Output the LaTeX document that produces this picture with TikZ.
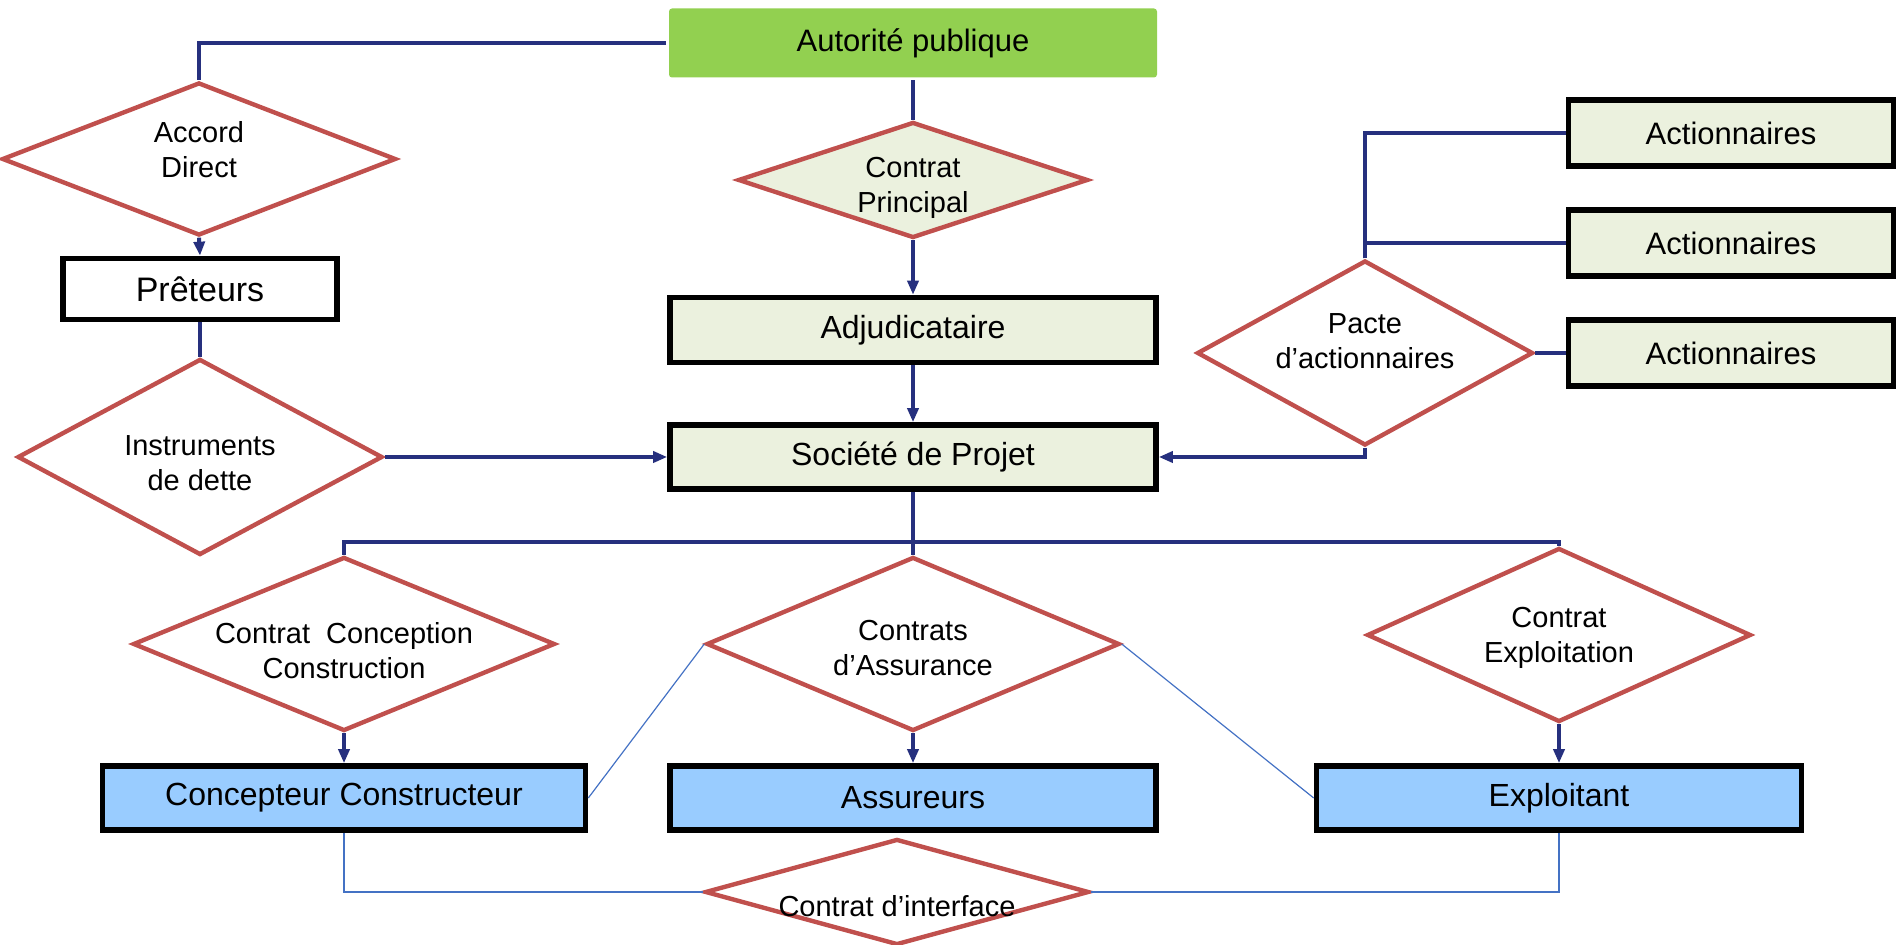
\documentclass[tikz,border=0pt]{standalone}
\usepackage{fontspec}
\setmainfont{Liberation Sans}
\usetikzlibrary{shapes.geometric,arrows.meta}
\definecolor{bleufonce}{HTML}{26307E}
\definecolor{rougebord}{HTML}{C0504D}
\definecolor{vertaut}{HTML}{92D050}
\definecolor{beige}{HTML}{EBF1DE}
\definecolor{bleuclair}{HTML}{99CCFF}
\definecolor{bleufin}{HTML}{4472C4}

\begin{document}
\begin{tikzpicture}[x=0.5pt,y=-0.5pt,
    boite/.style ={rectangle, draw=black, line width=2.8pt, inner sep=0pt, font=\fontsize{16}{19}\selectfont},
    contrat/.style ={diamond, draw=rougebord, line width=2.2pt, inner sep=0pt, fill=white},
    texte/.style ={align=center, inner sep=0pt, font=\fontsize{14.5}{17.5}\selectfont},
    lien/.style ={draw=bleufonce, line width=2pt},
    fleche/.style ={lien, -{Triangle[length=7pt,width=5.5pt]}},
    fin/.style ={draw=bleufin, line width=0.6pt}]
   \useasboundingbox (0,0) rectangle (1897,945);

   \node[boite, draw=none, fill=vertaut, rounded corners=1.5pt, minimum width=244pt, minimum height=34.5pt, font=\fontsize{15.5}{18}\selectfont] (aut) at (913,43) {Autorité publique};
   \node[contrat, minimum width=197pt, minimum height=76.5pt, label={[texte, yshift=4.5pt]center:Accord\\Direct}] (acc) at (199,159) {};
   \node[boite, fill=white, minimum width=137pt, minimum height=30.5pt, font=\fontsize{17}{20}\selectfont] (pre) at (200,289) {Prêteurs};
   \node[contrat, minimum width=182.5pt, minimum height=98pt, label={[texte, yshift=-3pt]center:Instruments\\de dette}] (ins) at (200,457) {};
   \node[contrat, fill=beige, minimum width=175pt, minimum height=58pt, label={[texte, yshift=-4pt]center:Contrat\\Principal}] (cp) at (913,180) {};
   \node[boite, fill=beige, minimum width=243pt, minimum height=32.5pt] (adj) at (913,330) {Adjudicataire};
   \node[boite, fill=beige, minimum width=243pt, minimum height=32pt] (soc) at (913,457) {Société de Projet};

   \node[boite, fill=beige, minimum width=162.5pt, minimum height=33pt, font=\fontsize{15.5}{18}\selectfont] (act1) at (1731,133) {Actionnaires};
   \node[boite, fill=beige, minimum width=162.5pt, minimum height=33pt, font=\fontsize{15.5}{18}\selectfont] (act2) at (1731,243) {Actionnaires};
   \node[boite, fill=beige, minimum width=162.5pt, minimum height=33pt, font=\fontsize{15.5}{18}\selectfont] (act3) at (1731,353) {Actionnaires};
   \node[contrat, minimum width=168pt, minimum height=92.5pt, label={[texte, yshift=6pt]center:Pacte\\d’actionnaires}] (pac) at (1365,353) {};

   \coordinate (bus) at (913,542);
   \node[contrat, minimum width=211pt, minimum height=87pt, label={[texte, yshift=-3.5pt]center:Contrat~~Conception\\Construction}] (ccc) at (344,644) {};
   \node[contrat, minimum width=206.5pt, minimum height=87pt, label={[texte, yshift=-2pt]center:Contrats\\d’Assurance}] (cas) at (913,644) {};
   \node[contrat, minimum width=192pt, minimum height=87pt, label={[texte, yshift=-1.5pt]center:Contrat\\Exploitation}] (cex) at (1559,635) {};
   \node[boite, fill=bleuclair, minimum width=241.5pt, minimum height=32pt] (ccon) at (344,798) {Concepteur Constructeur};
   \node[boite, fill=bleuclair, minimum width=243pt, minimum height=32pt] (ass) at (913,798) {Assureurs};
   \node[boite, fill=bleuclair, minimum width=242.5pt, minimum height=32pt] (expl) at (1559,798) {Exploitant};
   \node[contrat, minimum width=192pt, minimum height=53pt, label={[texte, yshift=-7pt]center:Contrat d’interface}] (cif) at (897,892) {};

   % liens du haut
   \draw[lien] (aut.west) -| (acc.north);
   \draw[lien] (aut.south) -- (cp.north);
   \draw[fleche] (acc.south) -- (pre.north);
   \draw[lien] (pre.south) -- (ins.north);
   \draw[fleche] (ins.east) -- (soc.west);
   \draw[fleche] (cp.south) -- (adj.north);
   \draw[fleche] (adj.south) -- (soc.north);
   \draw[lien] (pac.north) |- (act1.west);
   \draw[lien] (pac.north) |- (act2.west);
   \draw[lien] (pac.east) -- (act3.west);
   \draw[fleche] (pac.south) |- (soc.east);

   % liens du bas
   \draw[lien] (soc.south) -- (bus) -| (ccc.north);
   \draw[lien] (bus) -- (cas.north);
   \draw[lien] (bus) -| (cex.north);
   \draw[fleche] (ccc.south) -- (ccon.north);
   \draw[fleche] (cas.south) -- (ass.north);
   \draw[fleche] (cex.south) -- (expl.north);
   \draw[fin] (cas.west) -- (ccon.east);
   \draw[fin] (cas.east) -- (expl.west);
   \draw[fin] (ccon.south) |- (cif.west);
   \draw[fin] (expl.south) |- (cif.east);
\end{tikzpicture}
\end{document}
